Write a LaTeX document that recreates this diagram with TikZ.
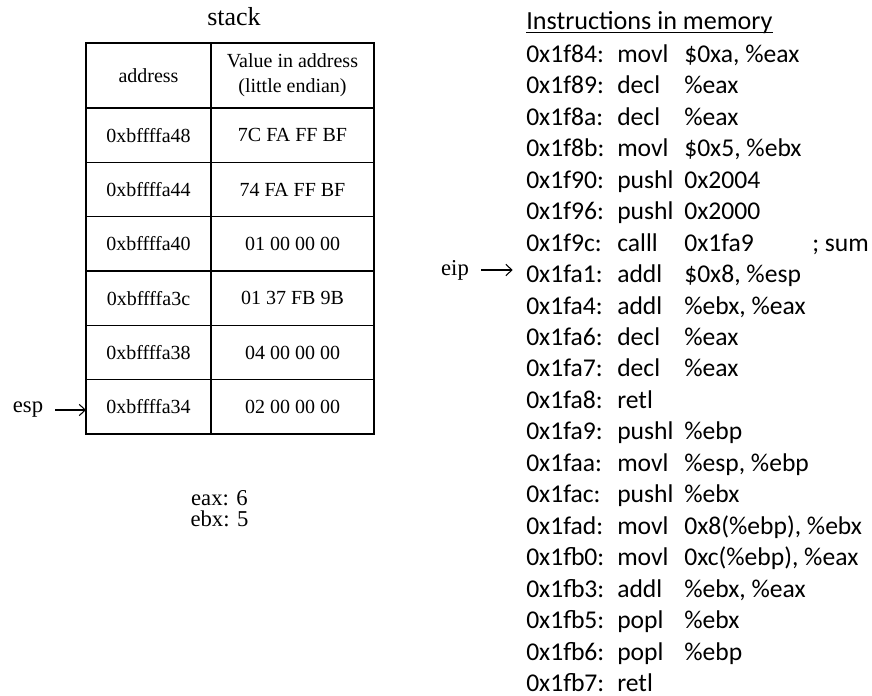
\documentclass[tikz,border=0pt]{standalone}
\usepackage{fontspec}
\setmainfont{Liberation Serif}
\newfontfamily\calfont{Carlito}
\usetikzlibrary{arrows.meta}

\tikzset{
  cell/.style={draw, line width=0.8pt, inner sep=0pt, outer sep=0pt,
    minimum height=40.75pt, font=\fontsize{15}{18.75}\selectfont},
  addrcol/.style={cell, minimum width=93.75pt},
  valcol/.style={cell, minimum width=122.25pt},
  label/.style={inner sep=0pt, font=\fontsize{17}{21}\selectfont},
  ins/.style={anchor=base west, inner sep=0pt, font=\calfont\fontsize{19.2}{23}\selectfont},
  pointer/.style={-{Straight Barb[length=4.5pt,width=8.5pt]}, line width=0.8pt}
}

\begin{document}
\begin{tikzpicture}[x=0.75pt, y=-0.75pt]
        \useasboundingbox (0,0) rectangle (872,696);

        % La pile
        \node[font=\fontsize{19.5}{23}\selectfont] (stack) at (234,17) {stack};
        \node[addrcol, minimum height=48.75pt] (ah) at (148.5,75.5) {address};
        \node[valcol, minimum height=48.75pt, align=center] (vh) at (292.5,75.5) {Value in address\\(little endian)};
        \foreach \addr/\val [count=\i] in {0xbffffa48/7C FA FF BF, 0xbffffa44/74 FA FF BF,
            0xbffffa40/01 00 00 00, 0xbffffa3c/01 37 FB 9B, 0xbffffa38/04 00 00 00,
            0xbffffa34/02 00 00 00} {
            \node[addrcol] (a\i) at (148.5, 54.33*\i+80.83) {\addr};
            \node[valcol] (v\i) at (292.5, 54.33*\i+80.83) {\val};
        }
        \node[label] (esp) at (28,410) {esp};
        \draw[pointer, shorten <=9pt] (esp) -- (esp -| a6.west);

        % Registres
        \node[label, align=center, font=\fontsize{17}{15.75}\selectfont] (regs) at (219.5,509) {eax: 6\\ebx: 5};

        % Instructions en mémoire
        \node[ins, font=\calfont\fontsize{19.6}{23}\selectfont] (title) at (526,29.5) {Instructions in memory};
        \draw[line width=0.8pt] ([yshift=-2.5pt]title.base west) -- ([yshift=-2.5pt]title.base east);
        \foreach \addr/\op/\arg [count=\i] in {0x1f84/movl/{\$0xa, \%eax}, 0x1f89/decl/\%eax,
            0x1f8a/decl/\%eax, 0x1f8b/movl/{\$0x5, \%ebx}, 0x1f90/pushl/0x2004,
            0x1f96/pushl/0x2000, 0x1f9c/calll/0x1fa9, 0x1fa1/addl/{\$0x8, \%esp},
            0x1fa4/addl/{\%ebx, \%eax}, 0x1fa6/decl/\%eax, 0x1fa7/decl/\%eax,
            0x1fa8/retl/{}, 0x1fa9/pushl/\%ebp, 0x1faa/movl/{\%esp, \%ebp},
            0x1fac/pushl/\%ebx, 0x1fad/movl/{0x8(\%ebp), \%ebx}, 0x1fb0/movl/{0xc(\%ebp), \%eax},
            0x1fb3/addl/{\%ebx, \%eax}, 0x1fb5/popl/\%ebx, 0x1fb6/popl/\%ebp, 0x1fb7/retl/{}} {
            \node[ins] (ad\i) at (526, 31.45*\i+31) {\addr:};
            \node[ins] (op\i) at (617, 31.45*\i+31) {\op};
            \node[ins] (ar\i) at (684, 31.45*\i+31) {\arg};
        }
        \node[ins] (sum) at (812, 251.2) {; sum};

        \node[label] (eip) at (455,270) {eip};
        \draw[pointer, shorten <=9pt, shorten >=10pt] (eip) -- (eip -| ad8.west);
    \end{tikzpicture}
\end{document}
